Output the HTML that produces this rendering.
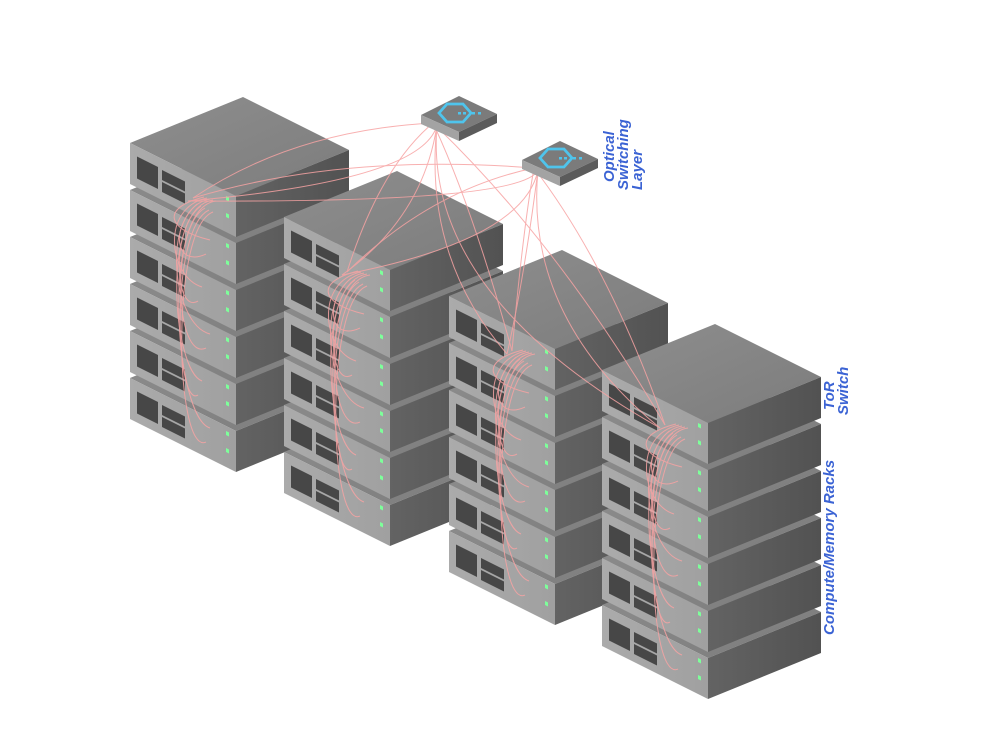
<!DOCTYPE html>
<html><head><meta charset="utf-8"><style>
html,body{margin:0;padding:0;background:#fff;}
svg{display:block}
.lbl{font-family:"Liberation Sans",sans-serif;font-weight:bold;font-style:italic;fill:#3b63d4;font-size:15px;}
</style></head><body>
<svg id="s" width="1000" height="734" viewBox="0 0 1000 734" xmlns="http://www.w3.org/2000/svg">
<defs>
<linearGradient id="gf" x1="0" y1="0" x2="1" y2="0"><stop offset="0" stop-color="#ababab"/><stop offset="1" stop-color="#a0a0a0"/></linearGradient>
<linearGradient id="gr" x1="0" y1="0" x2="1" y2="0"><stop offset="0" stop-color="#636363"/><stop offset="1" stop-color="#525252"/></linearGradient>
<linearGradient id="gt" x1="0" y1="0" x2="1" y2="1"><stop offset="0" stop-color="#8e8e8e"/><stop offset="1" stop-color="#7c7c7c"/></linearGradient>
</defs>
<g id="racks"></g>
<g id="cables" fill="none" stroke="#f7a3a3" stroke-width="1" opacity="0.85"></g>
<g id="sw"></g>
<text class="lbl" transform="translate(614,182) rotate(-90)">Optical</text>
<text class="lbl" transform="translate(628,190) rotate(-90)">Switching</text>
<text class="lbl" transform="translate(642,190) rotate(-90)">Layer</text>
<text class="lbl" transform="translate(834,410) rotate(-90)">ToR</text>
<text class="lbl" transform="translate(848,415) rotate(-90)">Switch</text>
<text class="lbl" transform="translate(834,635) rotate(-90)">Compute/Memory Racks</text>
</svg>
<script>
var NS="http://www.w3.org/2000/svg";
function el(p,t,a){var e=document.createElementNS(NS,t);for(var k in a)e.setAttribute(k,a[k]);p.appendChild(e);return e;}
function pts(a){return a.map(function(p){return p[0]+","+p[1]}).join(" ");}
var R=document.getElementById("racks"),C=document.getElementById("cables"),S=document.getElementById("sw");
var racks=[[130,143],[284,217],[449,296],[602,370]];
var s=47,h=41,hubs=[];
racks.forEach(function(r){
  for(var i=5;i>=0;i--){
    var x=r[0],y=r[1]+i*s;
    var g=el(R,"g",{});
    el(g,"polygon",{points:pts([[x,y],[x+113,y-46],[x+219,y+7],[x+106,y+53]]),fill:"url(#gt)"});
    el(g,"polygon",{points:pts([[x,y],[x+106,y+53],[x+106,y+53+h],[x,y+h]]),fill:"url(#gf)"});
    el(g,"polygon",{points:pts([[x+106,y+53],[x+219,y+7],[x+219,y+7+h],[x+106,y+53+h]]),fill:"url(#gr)"});
    var f=el(g,"g",{transform:"matrix(1,0.5,0,1,"+x+","+y+")"});
    el(f,"rect",{x:7,y:10,width:21,height:22,fill:"#474747"});
    el(f,"rect",{x:32,y:11,width:23,height:10,fill:"#474747"});
    el(f,"rect",{x:32,y:23,width:23,height:10,fill:"#474747"});
    el(f,"rect",{x:96,y:5,width:3,height:4,fill:"#7dff9a"});
    el(f,"rect",{x:96,y:22,width:3,height:4,fill:"#7dff9a"});
  }
  var hx=r[0]+63,hy=r[1]+55;hubs.push([hx,hy]);
  for(var k=1;k<6;k++){
    var ex=r[0]+72+(k%2)*8,ey=r[1]+k*s+50;
    el(C,"path",{d:"M"+(hx+8+k*3)+","+(hy-2+k)+" C"+(r[0]+30)+","+(hy+10)+" "+(r[0]+35+k*2)+","+(ey-10)+" "+ex+","+ey});
    el(C,"path",{d:"M"+(hx+k*4)+","+(hy+4+k*2)+" C"+(r[0]+40)+","+(hy+30)+" "+(r[0]+45)+","+(ey+s*0.6)+" "+(ex-4)+","+(ey+s*0.3)});
  }
});
var sws=[[421,115],[522,160]];
sws.forEach(function(p,j){
  var x=p[0],y=p[1];
  el(S,"polygon",{points:pts([[x,y],[x+38,y-19],[x+76,y-1],[x+38,y+17]]),fill:"#7b7b7b"});
  el(S,"polygon",{points:pts([[x,y],[x+38,y+17],[x+38,y+26],[x,y+9]]),fill:"#a3a3a3"});
  el(S,"polygon",{points:pts([[x+38,y+17],[x+76,y-1],[x+76,y+8],[x+38,y+26]]),fill:"#5b5b5b"});
  var cx=x+34,cy=y-2;
  el(S,"polygon",{points:pts([[cx-16,cy],[cx-8,cy-9],[cx+8,cy-9],[cx+16,cy],[cx+8,cy+9],[cx-8,cy+9]]),fill:"none",stroke:"#4fc4ec","stroke-width":2.8});
  [[cx+3,cy],[cx+8,cy],[cx+17,cy],[cx+23,cy]].forEach(function(d){el(S,"rect",{x:d[0],y:d[1]-1,width:3,height:2.5,fill:"#4fc4ec"});});
  var sx=x+12,sy=y+8;
  hubs.forEach(function(hb,i){
    var mx=(sx+hb[0])/2,my=(sy+hb[1])/2;
    el(C,"path",{d:"M"+sx+","+sy+" Q"+(mx-20+i*10)+","+(my-30)+" "+hb[0]+","+hb[1]});
    el(C,"path",{d:"M"+(sx+4)+","+(sy+2)+" Q"+(sx-10)+","+(my+20)+" "+(hb[0]-5)+","+(hb[1]+3)});
  });
});
</script>
</body></html>
